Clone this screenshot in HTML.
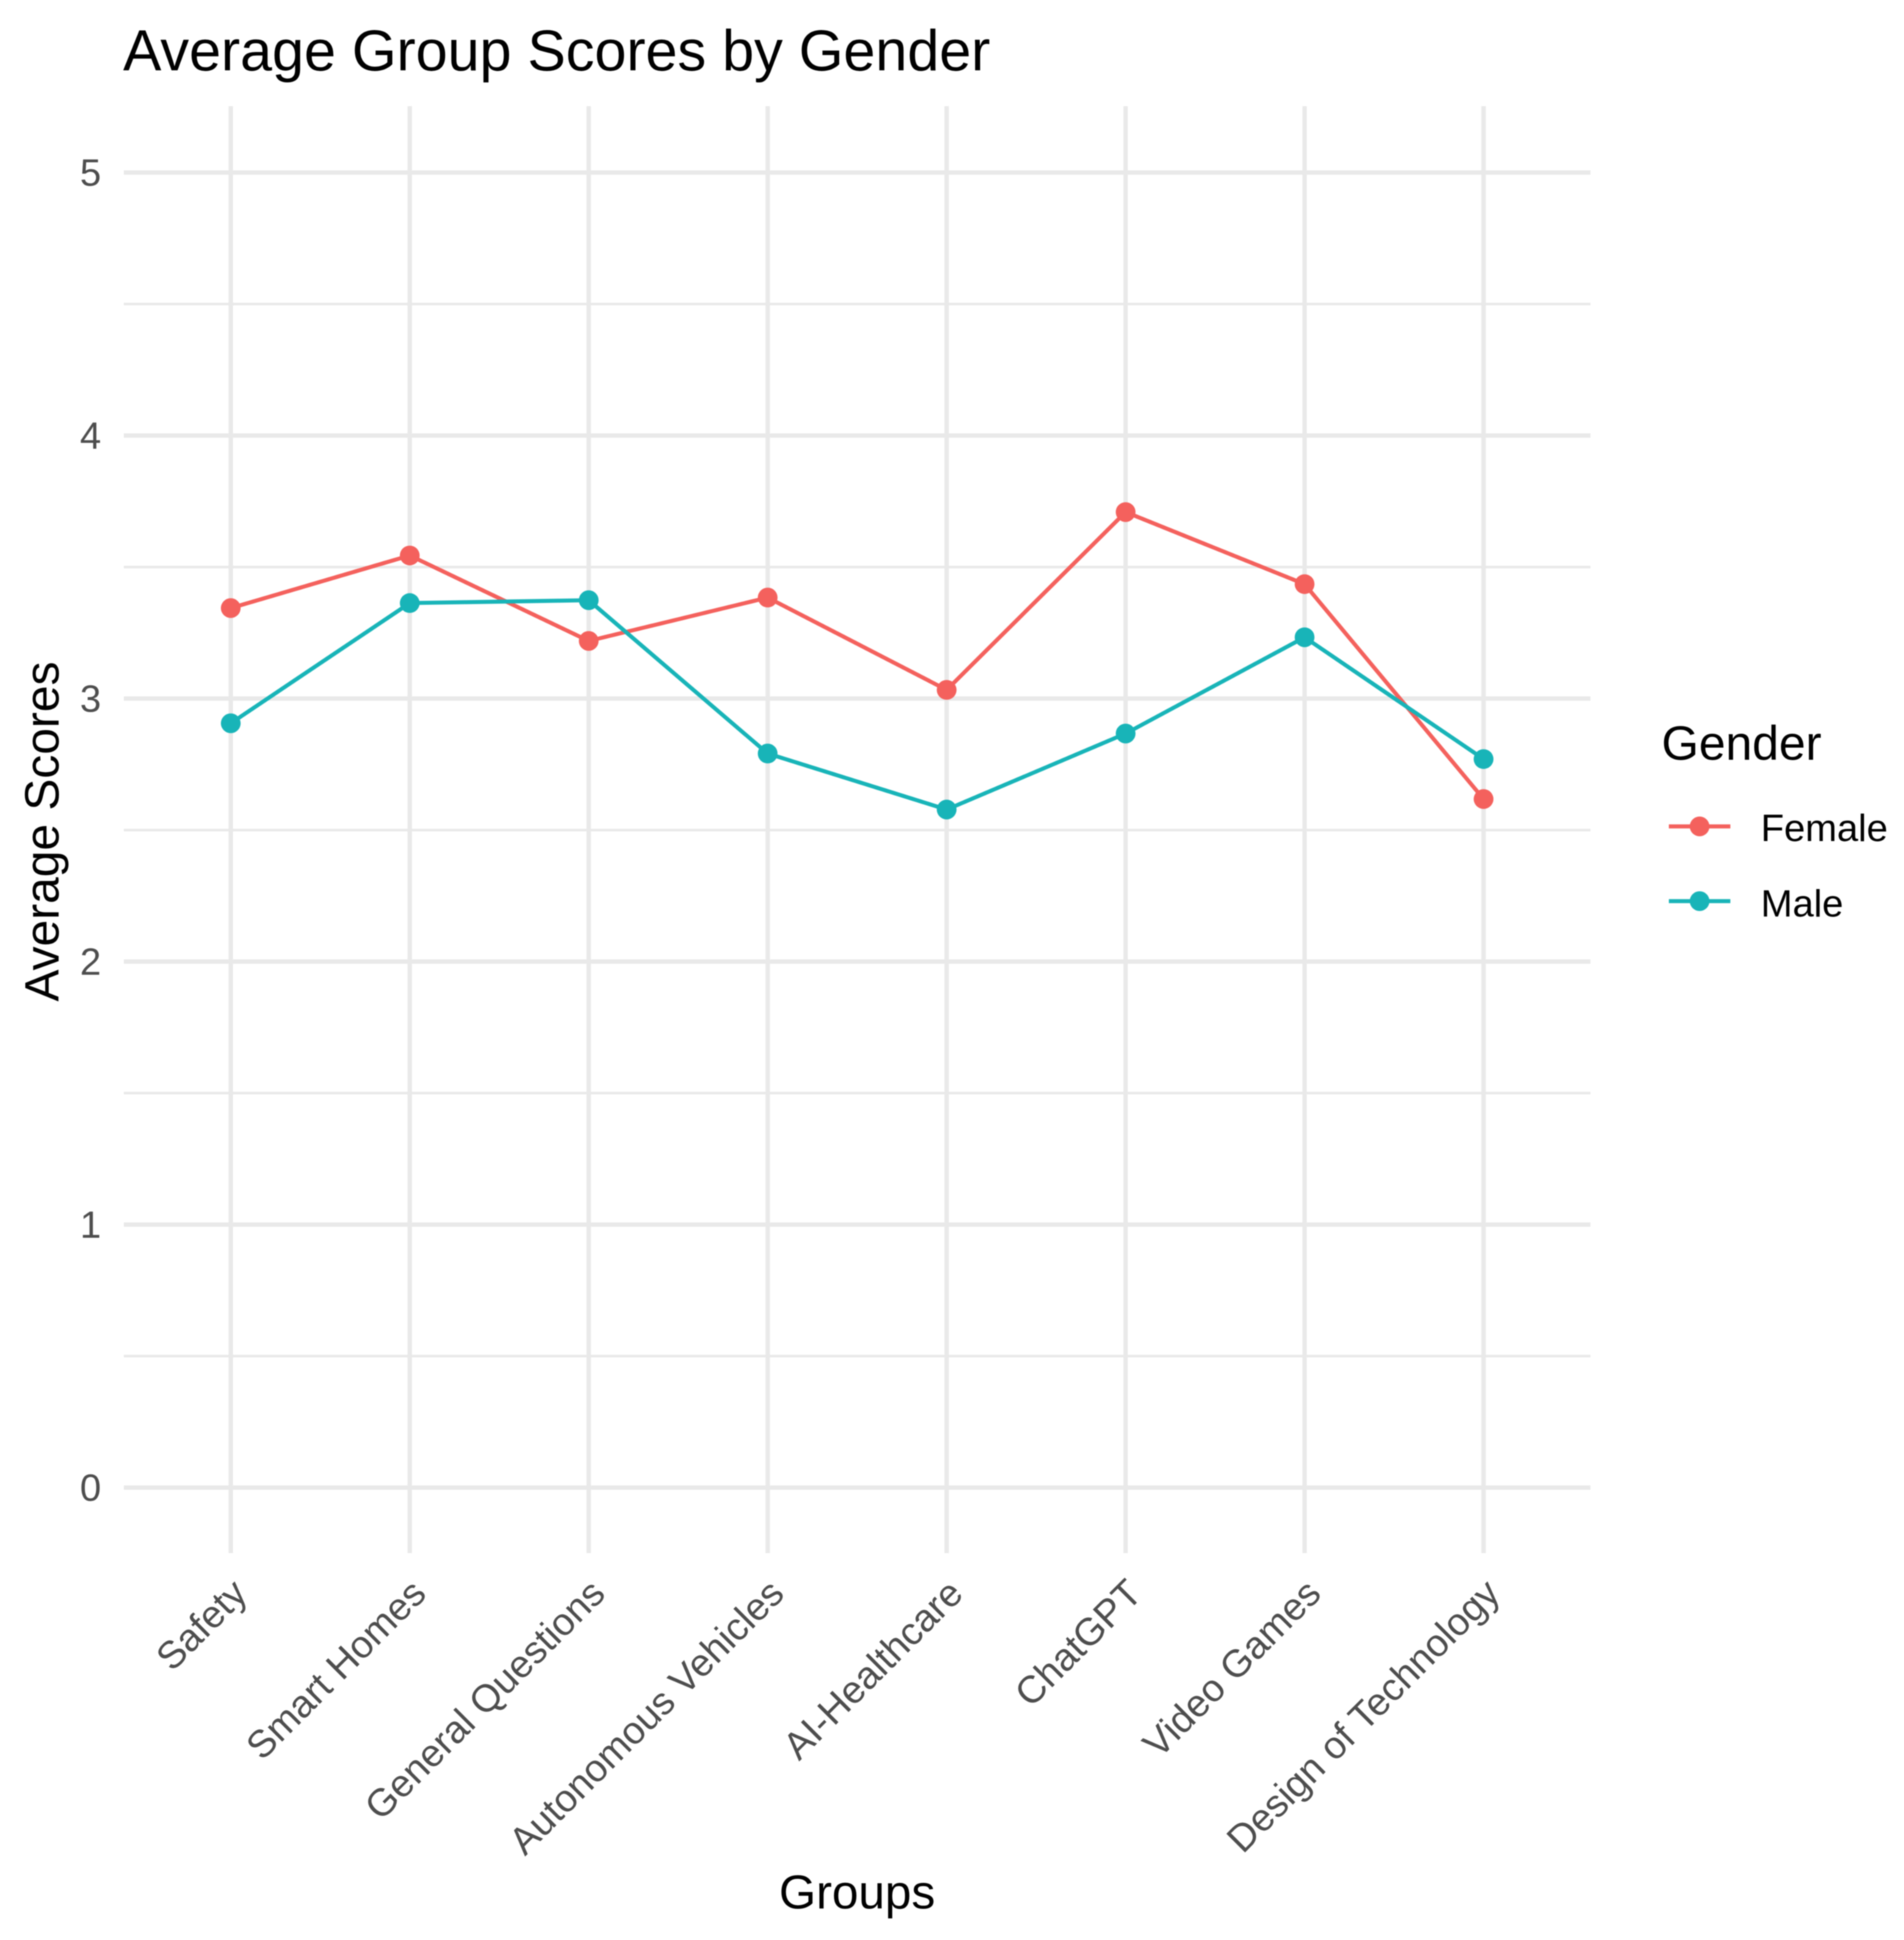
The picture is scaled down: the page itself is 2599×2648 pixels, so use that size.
<!DOCTYPE html>
<html lang="en">
<head>
<meta charset="utf-8">
<title>Average Group Scores by Gender</title>
<style>
  html, body { margin: 0; padding: 0; background: #ffffff; }
  svg { display: block; font-family: "Liberation Sans", Arial, sans-serif; filter: blur(0.7px); }
</style>
</head>
<body>
<svg id="chart" xmlns="http://www.w3.org/2000/svg" width="2599" height="2648" viewBox="0 0 2599 2648">
  <rect x="0" y="0" width="2599" height="2648" fill="#ffffff"/>
  <g id="grid"></g>
  <g id="series"></g>
  <g id="y-ticks"></g>
  <g id="x-ticks"></g>
  <text x="168" y="96" font-size="78.4" fill="#000000">Average Group Scores by Gender</text>
  <text x="1170" y="2605" font-size="65" fill="#000000" text-anchor="middle">Groups</text>
  <text transform="translate(80 1135) rotate(-90)" font-size="65.4" fill="#000000" text-anchor="middle">Average Scores</text>
  <g>
    <text x="2268" y="1037" font-size="65.5" fill="#000000">Gender</text>
    <g>
      <line x1="2278" y1="1128" x2="2362" y2="1128" stroke="#f4615d" stroke-width="5.5"/>
      <circle cx="2320" cy="1128" r="13.5" fill="#f4615d"/>
      <text x="2403.5" y="1148" font-size="52" fill="#000000">Female</text>
    </g>
    <g>
      <line x1="2278" y1="1230" x2="2362" y2="1230" stroke="#18b4b8" stroke-width="5.5"/>
      <circle cx="2320" cy="1230" r="13.5" fill="#18b4b8"/>
      <text x="2403.5" y="1251" font-size="52" fill="#000000">Male</text>
    </g>
  </g>
</svg>
<script>
const categories = ["Safety", "Smart Homes", "General Questions", "Autonomous Vehicles", "AI-Healthcare", "ChatGPT", "Video Games", "Design of Technology"];
const femaleValues = [3.344, 3.544, 3.219, 3.384, 3.033, 3.709, 3.435, 2.618];
const maleValues = [2.906, 3.363, 3.374, 2.791, 2.578, 2.867, 3.233, 2.770];
const yMajorTicks = [0, 1, 2, 3, 4, 5];
const yMinorTicks = [0.5, 1.5, 2.5, 3.5, 4.5];

const NS = 'http://www.w3.org/2000/svg';
const panelLeft = 169, panelRight = 2171, panelTop = 145, panelBottom = 2120;

function xScale(i) { return 315 + 244.3 * i; }
function yScale(v) { return 2030.5 - 359 * v; }

function make(tag, parent, props) {
  const el = document.createElementNS(NS, tag);
  for (const k in props) el.setAttribute(k, props[k]);
  parent.appendChild(el);
  return el;
}

const grid = document.getElementById('grid');
const seriesGroup = document.getElementById('series');
const yTickGroup = document.getElementById('y-ticks');
const xTickGroup = document.getElementById('x-ticks');

yMinorTicks.forEach(function (v) {
  const el = make('line', grid, { x1: panelLeft, x2: panelRight, y1: yScale(v), y2: yScale(v), stroke: '#e9e9e9', 'stroke-width': 3.4 });
  
  
});

yMajorTicks.forEach(function (v) {
  const el = make('line', grid, { x1: panelLeft, x2: panelRight, y1: yScale(v), y2: yScale(v), stroke: '#e9e9e9', 'stroke-width': 6 });
  
  
  const label = make('text', yTickGroup, { x: 138, y: yScale(v) + 18, 'font-size': 52, fill: '#4d4d4d', 'text-anchor': 'end' });
  label.textContent = String(v);
  
  
});

categories.forEach(function (name, i) {
  const el = make('line', grid, { x1: xScale(i), x2: xScale(i), y1: panelTop, y2: panelBottom, stroke: '#e9e9e9', 'stroke-width': 6 });
  
  
  const ax = xScale(i) + 25, ay = 2178;
  const label = make('text', xTickGroup, { x: 0, y: 0, 'font-size': 52.4, fill: '#4d4d4d', 'text-anchor': 'end', transform: 'translate(' + ax + ' ' + ay + ') rotate(-45)' });
  label.textContent = name;
  
  
});

function drawSeries(values, color, seriesName) {
  const pts = values.map(function (v, i) { return xScale(i) + ',' + yScale(v); }).join(' ');
  const line = make('polyline', seriesGroup, { points: pts, fill: 'none', stroke: color, 'stroke-width': 5.5, 'stroke-linejoin': 'round' });
  
  
  values.forEach(function (v, i) {
    const dot = make('circle', seriesGroup, { cx: xScale(i), cy: yScale(v), r: 13.5, fill: color });
    
    
  });
}

drawSeries(femaleValues, '#f4615d', 'female');
drawSeries(maleValues, '#18b4b8', 'male');
</script>
</body>
</html>
